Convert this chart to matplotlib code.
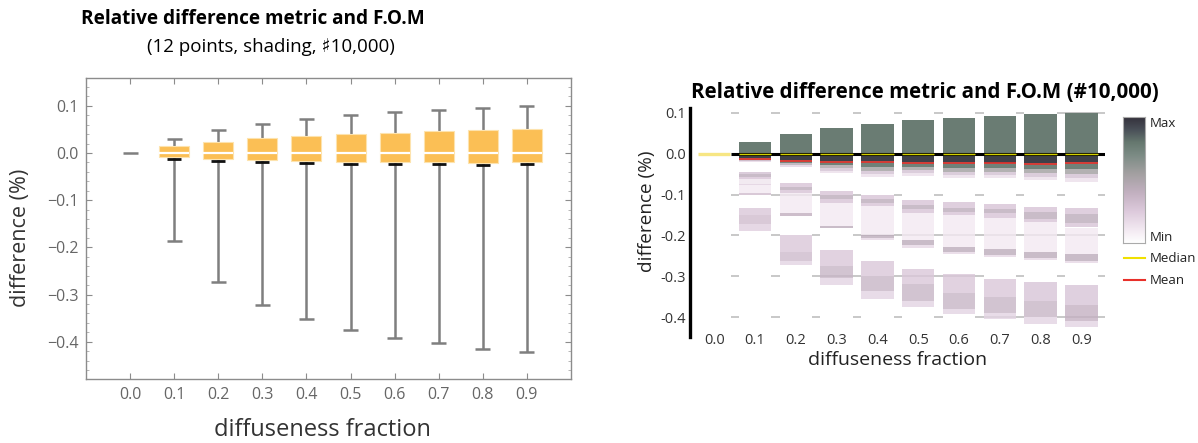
import matplotlib
matplotlib.use("Agg")
import matplotlib.pyplot as plt
import numpy as np
from matplotlib.colors import LinearSegmentedColormap

# ---------------- data ----------------
fractions = [0.0, 0.1, 0.2, 0.3, 0.4, 0.5, 0.6, 0.7, 0.8, 0.9]
x_labels = ["0.0", "0.1", "0.2", "0.3", "0.4", "0.5", "0.6", "0.7", "0.8", "0.9"]

# left panel box statistics (difference, %)
whisker_hi = [0.0, 0.029, 0.049, 0.062, 0.072, 0.080, 0.086, 0.091, 0.095, 0.100]
box_q3     = [0.0, 0.0156, 0.024, 0.032, 0.037, 0.040, 0.043, 0.046, 0.049, 0.051]
box_median = [0.0, 0.001, 0.001, 0.001, 0.001, 0.001, 0.001, 0.001, 0.001, 0.001]
box_q1     = [0.0, -0.0085, -0.0127, -0.014, -0.0176, -0.019, -0.019, -0.020, -0.021, -0.020]
whisker_lo = [0.0, -0.187, -0.273, -0.323, -0.352, -0.375, -0.392, -0.402, -0.415, -0.421]
means      = [0.0, -0.013, -0.0176, -0.0197, -0.021, -0.024, -0.0225, -0.024, -0.0245, -0.023]

left_yticks = [0.1, 0.0, -0.1, -0.2, -0.3, -0.4]
left_ytick_labels = ["0.1", "0.0", "\u22120.1", "\u22120.2", "\u22120.3", "\u22120.4"]
right_yticks = [0.1, 0.0, -0.1, -0.2, -0.3, -0.4]
right_ytick_labels = ["0.1", "0.0", "-0.1", "-0.2", "-0.3", "-0.4"]

# right panel: density bands per column (top, bottom, relative density 0..1)
bands_00 = []
bands_01 = [(0.029, 0.0, 0.78), (0.0, -0.011, 0.95), (-0.011, -0.015, 0.7), (-0.015, -0.018, 0.4),
            (-0.018, -0.021, 0.18), (-0.044, -0.050, 0.3), (-0.050, -0.056, 0.42), (-0.056, -0.062, 0.28),
            (-0.062, -0.074, 0.12), (-0.074, -0.077, 0.22), (-0.077, -0.096, 0.1), (-0.096, -0.100, 0.32),
            (-0.132, -0.150, 0.26), (-0.150, -0.172, 0.32), (-0.172, -0.190, 0.22)]
bands_02 = [(0.049, 0.0, 0.78), (0.0, -0.016, 0.95), (-0.016, -0.022, 0.72), (-0.022, -0.027, 0.45),
            (-0.027, -0.032, 0.2), (-0.073, -0.081, 0.28), (-0.081, -0.089, 0.42), (-0.089, -0.096, 0.28),
            (-0.096, -0.144, 0.1), (-0.144, -0.152, 0.4), (-0.200, -0.240, 0.26), (-0.240, -0.262, 0.33),
            (-0.262, -0.273, 0.2)]
bands_03 = [(0.062, 0.0, 0.78), (0.0, -0.018, 0.95), (-0.018, -0.028, 0.75), (-0.028, -0.036, 0.5),
            (-0.036, -0.042, 0.3), (-0.042, -0.048, 0.15), (-0.092, -0.100, 0.28), (-0.100, -0.112, 0.42),
            (-0.112, -0.120, 0.28), (-0.120, -0.176, 0.1), (-0.176, -0.183, 0.42), (-0.236, -0.275, 0.26),
            (-0.275, -0.305, 0.36), (-0.305, -0.322, 0.2)]
bands_04 = [(0.073, 0.0, 0.78), (0.0, -0.019, 0.95), (-0.019, -0.032, 0.75), (-0.032, -0.042, 0.55),
            (-0.042, -0.050, 0.3), (-0.050, -0.056, 0.15), (-0.101, -0.110, 0.28), (-0.110, -0.120, 0.42),
            (-0.120, -0.128, 0.28), (-0.128, -0.198, 0.1), (-0.198, -0.206, 0.42), (-0.206, -0.212, 0.18),
            (-0.263, -0.300, 0.26), (-0.300, -0.335, 0.36), (-0.335, -0.355, 0.2)]
bands_05 = [(0.081, 0.0, 0.78), (0.0, -0.021, 0.95), (-0.021, -0.032, 0.75), (-0.032, -0.041, 0.55),
            (-0.041, -0.048, 0.3), (-0.048, -0.054, 0.15), (-0.114, -0.126, 0.28), (-0.126, -0.136, 0.42),
            (-0.136, -0.146, 0.28), (-0.146, -0.212, 0.1), (-0.212, -0.224, 0.42), (-0.224, -0.230, 0.18),
            (-0.283, -0.318, 0.26), (-0.318, -0.360, 0.36), (-0.360, -0.375, 0.2)]
bands_06 = [(0.087, 0.0, 0.78), (0.0, -0.021, 0.95), (-0.021, -0.034, 0.75), (-0.034, -0.044, 0.55),
            (-0.044, -0.052, 0.3), (-0.052, -0.059, 0.15), (-0.119, -0.132, 0.28), (-0.132, -0.142, 0.42),
            (-0.142, -0.150, 0.28), (-0.150, -0.228, 0.1), (-0.228, -0.240, 0.42), (-0.240, -0.245, 0.18),
            (-0.295, -0.340, 0.26), (-0.340, -0.380, 0.36), (-0.380, -0.391, 0.2)]
bands_07 = [(0.0915, 0.0, 0.78), (0.0, -0.022, 0.95), (-0.022, -0.035, 0.75), (-0.035, -0.045, 0.55),
            (-0.045, -0.053, 0.3), (-0.053, -0.060, 0.15), (-0.122, -0.135, 0.28), (-0.135, -0.145, 0.42),
            (-0.145, -0.158, 0.28), (-0.158, -0.234, 0.1), (-0.234, -0.248, 0.42), (-0.248, -0.253, 0.18),
            (-0.307, -0.350, 0.26), (-0.350, -0.390, 0.36), (-0.390, -0.404, 0.2)]
bands_08 = [(0.0964, 0.0, 0.78), (0.0, -0.022, 0.95), (-0.022, -0.037, 0.75), (-0.037, -0.048, 0.55),
            (-0.048, -0.057, 0.3), (-0.057, -0.065, 0.15), (-0.130, -0.142, 0.28), (-0.142, -0.160, 0.42),
            (-0.160, -0.167, 0.28), (-0.167, -0.240, 0.1), (-0.240, -0.255, 0.42), (-0.255, -0.260, 0.18),
            (-0.315, -0.360, 0.27), (-0.360, -0.400, 0.36), (-0.400, -0.416, 0.2)]
bands_09 = [(0.1005, 0.0, 0.78), (0.0, -0.021, 0.95), (-0.021, -0.038, 0.75), (-0.038, -0.050, 0.55),
            (-0.050, -0.060, 0.3), (-0.060, -0.069, 0.15), (-0.134, -0.148, 0.28), (-0.148, -0.170, 0.42),
            (-0.170, -0.179, 0.28), (-0.182, -0.246, 0.1), (-0.246, -0.262, 0.42), (-0.262, -0.267, 0.18),
            (-0.322, -0.370, 0.27), (-0.370, -0.410, 0.38), (-0.410, -0.424, 0.2)]
density_bands = [bands_00, bands_01, bands_02, bands_03, bands_04,
                 bands_05, bands_06, bands_07, bands_08, bands_09]
right_medians = [0.0] * 10
right_means = [None, -0.013, -0.018, -0.020, -0.021, -0.024, -0.0225, -0.024, -0.0245, -0.023]

# ---------------- style ----------------
FONT = ["Open Sans", "DejaVu Sans"]
plt.rcParams["font.family"] = FONT

fig = plt.figure(figsize=(11.98, 4.43), dpi=100)

# ================= LEFT PANEL =================
axL = fig.add_axes([0.0718, 0.1445, 0.4048, 0.6794])
xs = np.array(fractions)
box_w = 0.068
cap_w = 0.034
box_color = "#fbbf55"
wcol = "#7f7f7f"
for i, x in enumerate(xs):
    if i == 0:
        axL.hlines(whisker_hi[i], x - cap_w / 2, x + cap_w / 2, color=wcol, lw=1.8, zorder=2)
        continue
    axL.vlines(x, box_q3[i], whisker_hi[i], color=wcol, lw=1.8, zorder=1)
    axL.vlines(x, whisker_lo[i], box_q1[i], color=wcol, lw=1.8, zorder=1)
    axL.hlines([whisker_hi[i], whisker_lo[i]], x - cap_w / 2, x + cap_w / 2, color=wcol, lw=1.8, zorder=1)
axL.bar(xs[1:], np.array(box_q3[1:]) - np.array(box_q1[1:]), bottom=box_q1[1:], width=box_w,
        color=box_color, edgecolor="#fde3ae", linewidth=0.8, zorder=2)
for i, x in enumerate(xs):
    if i == 0:
        continue
    axL.hlines(box_median[i], x - box_w / 2, x + box_w / 2, color="white", lw=1.6, zorder=3)
    axL.hlines(means[i], x - 0.016, x + 0.016, color="#111111", lw=2.0, zorder=3)

axL.set_xlim(-0.1, 1.0)
axL.set_ylim(-0.479, 0.159)
axL.set_xticks(fractions)
axL.set_xticklabels(x_labels)
axL.set_yticks(left_yticks)
axL.set_yticklabels(left_ytick_labels)
axL.set_yticks(np.arange(-0.46, 0.16, 0.02), minor=True)
for s in axL.spines.values():
    s.set_color("#8c8c8c")
    s.set_linewidth(1.0)
axL.tick_params(axis="both", which="major", direction="in", length=4, color="#8c8c8c",
                labelsize=11.5, labelcolor="#666666", top=True, right=True)
axL.tick_params(axis="y", which="minor", direction="in", length=2, color="#aaaaaa", right=True)
axL.tick_params(axis="x", which="major", pad=6)
axL.tick_params(axis="y", which="major", pad=5)
fig.text(0.0167, 0.463, "difference (%)", rotation=90, ha="center", va="center",
         fontsize=15.5, color="#333333")
fig.text(0.269, 0.029, "diffuseness fraction", ha="center", va="center", fontsize=17, color="#333333")
fig.text(0.211, 0.957, "Relative difference metric and F.O.M", ha="center", va="center",
         fontsize=13.7, fontweight="bold", color="black")
fig.text(0.226, 0.895, "(12 points, shading, \u266f10,000)", ha="center", va="center",
         fontsize=13.5, color="black", family=["Open Sans", "DejaVu Sans"])

# ================= RIGHT PANEL =================
axR = fig.add_axes([0.576, 0.2400, 0.3464, 0.5162])
ymin, ymax = -0.4475, 0.1115
xmin, xmax = -0.0593, 0.958
col_w = 0.0794
grid_start = 0.04

cmap = LinearSegmentedColormap.from_list("dens", [
    (0.0, "#ffffff"), (0.1, "#f3eaf2"), (0.25, "#ddcadc"), (0.4, "#c2b0c0"),
    (0.55, "#a3a0a1"), (0.7, "#7b8b84"), (0.8, "#66786f"), (0.9, "#4a5058"), (1.0, "#34313c")])

# grid (visible between columns)
axR.hlines([t for t in right_yticks if t != 0.0], grid_start, xmax, color="#c4c4c4", lw=1.3, zorder=0)
# column backgrounds
axR.bar(xs, ymax - ymin, bottom=ymin, width=col_w, color="white", linewidth=0, zorder=1)
for i, x in enumerate(xs):
    for (top, bot, lev) in density_bands[i]:
        for gy in right_yticks:
            if gy != 0.0 and bot < gy < top:
                axR.hlines(gy, x - col_w / 2, x + col_w / 2, color="#b8b8b8", lw=1.2, zorder=2)
        axR.bar(x, top - bot, bottom=bot, width=col_w, color=cmap(lev),
                alpha=1.0 if lev >= 0.6 else 0.82, linewidth=0, zorder=3)

axR.hlines(0.0, grid_start, xmax, color="black", lw=2.2, zorder=4)
axR.hlines(right_medians[0], xs[0] - col_w / 2, xs[0] + col_w / 2, color="#f7e683", lw=2.4, zorder=5)
for i, x in enumerate(xs):
    if i == 0:
        continue
    axR.hlines(right_medians[i], x - col_w / 2, x + col_w / 2, color="#d4d000", lw=1.0, zorder=5)
    axR.hlines(right_means[i], x - col_w / 2, x + col_w / 2, color="#e8302a", lw=1.2, zorder=5)

axR.set_xlim(xmin, xmax)
axR.set_ylim(ymin, ymax)
for k in ["top", "right", "bottom"]:
    axR.spines[k].set_visible(False)
axR.spines["left"].set_linewidth(2.4)
axR.spines["left"].set_color("black")
axR.set_xticks(fractions)
axR.set_xticklabels(x_labels)
axR.set_yticks(right_yticks)
axR.set_yticklabels(right_ytick_labels)
axR.tick_params(axis="both", length=0, labelsize=10.5, labelcolor="#333333")
axR.tick_params(axis="x", pad=-3)
axR.tick_params(axis="y", pad=3)
fig.text(0.540, 0.524, "difference (%)", rotation=90, ha="center", va="center", fontsize=13.7, color="#222222")
fig.text(0.7496, 0.1874, "diffuseness fraction", ha="center", va="center", fontsize=14, color="#222222")
fig.text(0.772, 0.792, "Relative difference metric and F.O.M (#10,000)", ha="center", va="center",
         fontsize=14.8, fontweight="bold", color="black")

# colorbar legend
cax = fig.add_axes([0.9374, 0.4515, 0.0184, 0.2844])
grad = np.linspace(1, 0, 256).reshape(-1, 1)
cax.imshow(grad, aspect="auto", cmap=cmap, vmin=0, vmax=1)
cax.set_xticks([])
cax.set_yticks([])
for s in cax.spines.values():
    s.set_color("#aaaaaa")
    s.set_linewidth(0.8)
fig.text(0.9599, 0.722, "Max", ha="left", va="center", fontsize=9.5, color="#222222")
fig.text(0.9599, 0.465, "Min", ha="left", va="center", fontsize=9.5, color="#222222")
fig.add_artist(plt.Line2D([0.9382, 0.9558], [1 - 258 / 443] * 2, color="#f0e000", lw=1.5))
fig.add_artist(plt.Line2D([0.9382, 0.9558], [1 - 280 / 443] * 2, color="#e8302a", lw=1.5))
fig.text(0.9599, 1 - 258 / 443, "Median", ha="left", va="center", fontsize=9.5, color="#222222")
fig.text(0.9599, 1 - 280 / 443, "Mean", ha="left", va="center", fontsize=9.5, color="#222222")

fig.savefig("out.png", dpi=100)
